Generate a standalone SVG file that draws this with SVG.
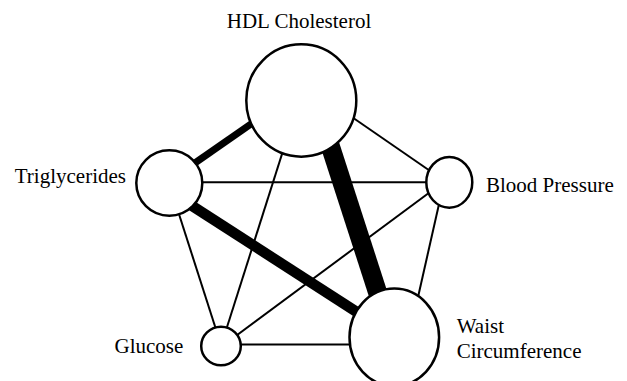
<svg xmlns="http://www.w3.org/2000/svg" width="627" height="381" viewBox="0 0 627 381">
<style>
.node{fill:#fff;stroke:#000;stroke-width:2.5}
.e{stroke:#000;stroke-linecap:butt;fill:none}
.lbl{font-family:"Liberation Serif","Times New Roman",serif;font-size:21px;fill:#000}
</style>
<rect width="627" height="381" fill="#fff"/>
<g id="edges">
<line class="e" x1="169" y1="182.3" x2="449" y2="182.3" stroke-width="2"/>
<line class="e" x1="320" y1="95" x2="449" y2="184" stroke-width="2"/>
<line class="e" x1="221" y1="346" x2="296" y2="110" stroke-width="2"/>
<line class="e" x1="169" y1="183" x2="221" y2="345" stroke-width="2"/>
<line class="e" x1="221" y1="347" x2="449" y2="178" stroke-width="2"/>
<line class="e" x1="444" y1="182" x2="409" y2="337" stroke-width="2"/>
<line class="e" x1="221" y1="344.5" x2="394" y2="344.5" stroke-width="2"/>
<line class="e" x1="169" y1="181" x2="290" y2="97" stroke-width="7"/>
<line class="e" x1="169" y1="191" x2="394" y2="336" stroke-width="10.5"/>
<line class="e" x1="318" y1="108" x2="392" y2="337" stroke-width="19"/>
</g>
<g id="hdl">
<ellipse class="node" cx="301.3" cy="100.5" rx="55" ry="56.2"/>
<text class="lbl" x="299" y="27.7" text-anchor="middle">HDL Cholesterol</text>
</g>
<g id="trig">
<ellipse class="node" cx="169.3" cy="183" rx="33" ry="32.8"/>
<text class="lbl" x="126" y="183.3" text-anchor="end">Triglycerides</text>
</g>
<g id="bp">
<ellipse class="node" cx="449.3" cy="182.3" rx="23" ry="25.4"/>
<text class="lbl" x="486" y="191.7">Blood Pressure</text>
</g>
<g id="glucose">
<ellipse class="node" cx="221" cy="346" rx="19.8" ry="19.3"/>
<text class="lbl" x="183.3" y="352.7" text-anchor="end">Glucose</text>
</g>
<g id="waist">
<ellipse class="node" cx="394.3" cy="337.3" rx="44.8" ry="48.8"/>
<text class="lbl" x="456.7" y="332.7">Waist</text>
<text class="lbl" x="456.7" y="358.3">Circumference</text>
</g>
</svg>
